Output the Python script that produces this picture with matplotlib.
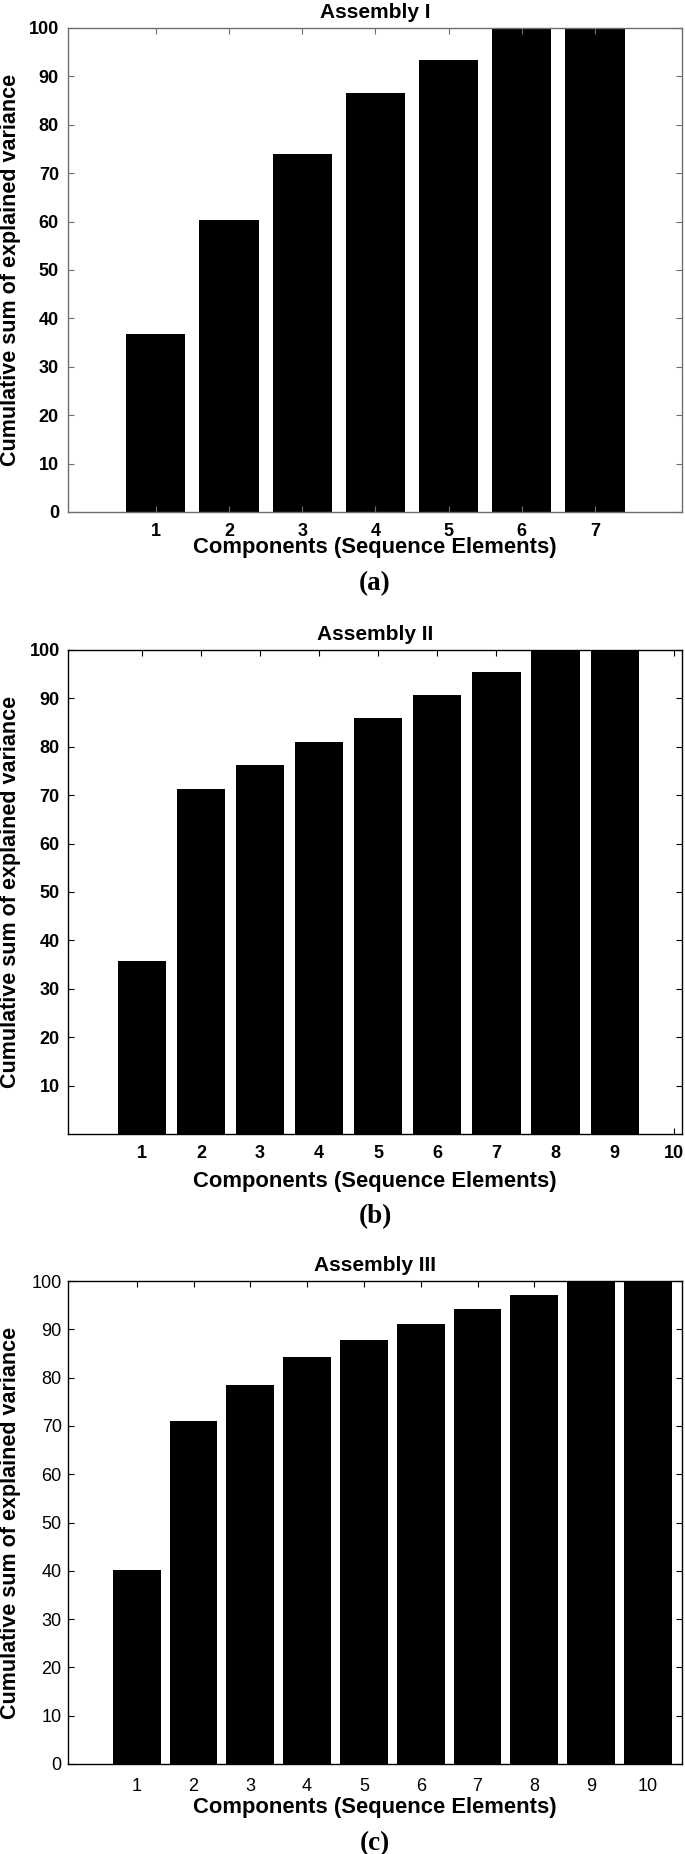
import matplotlib
matplotlib.use("Agg")
import matplotlib.pyplot as plt

# Assembly I
comps_a = [1, 2, 3, 4, 5, 6, 7]
cum_a = [36.7, 60.3, 74.0, 86.5, 93.3, 100.0, 100.0]
# Assembly II
comps_b = [1, 2, 3, 4, 5, 6, 7, 8, 9]
cum_b = [35.8, 71.3, 76.3, 81.0, 86.0, 90.8, 95.4, 100.0, 100.0]
# Assembly III
comps_c = [1, 2, 3, 4, 5, 6, 7, 8, 9, 10]
cum_c = [40.2, 71.0, 78.4, 84.2, 87.8, 91.0, 94.3, 97.2, 100.0, 100.0]

W, H = 685, 1854
SANS = ["Liberation Sans", "DejaVu Sans"]
SERIF = ["Liberation Serif", "DejaVu Serif"]

fig = plt.figure(figsize=(W / 100, H / 100), dpi=100)


def make_axes(top, bottom, left=68, right=682):
    return fig.add_axes([left / W, 1 - bottom / H, (right - left) / W, (bottom - top) / H])


def draw_panel(ax, comps, vals, title, letter, xlim, xticks, yticks, width,
               spine_color, tick_weight, tick_pad, ytick_pad, xlab_y, letter_y):
    ax.bar(comps, vals, width=width, color="black", edgecolor="none")
    ax.set_xlim(*xlim)
    ax.set_ylim(0, 100)
    ax.set_xticks(xticks)
    ax.set_yticks(yticks)
    ax.tick_params(direction="in", top=True, right=True, length=4, width=0.8,
                   color=spine_color, labelsize=13)
    ax.tick_params(axis="x", pad=tick_pad)
    ax.tick_params(axis="y", pad=ytick_pad)
    for lab in ax.get_xticklabels() + ax.get_yticklabels():
        lab.set_fontfamily(SANS)
        lab.set_fontweight(tick_weight)
    for sp in ax.spines.values():
        sp.set_color(spine_color)
        sp.set_linewidth(1.0)
    ax.set_title(title, fontsize=15, fontweight="bold", family=SANS, pad=7)
    ax.set_xlabel("Components (Sequence Elements)", fontsize=15.8,
                  fontweight="bold", family=SANS, va="center")
    ax.xaxis.set_label_coords(0.5, xlab_y)
    ax.set_ylabel("Cumulative sum of explained variance", fontsize=15.5,
                  fontweight="bold", family=SANS, va="center")
    ax.yaxis.set_label_coords(-0.094, 0.5)
    ax.text(0.5, letter_y, letter, transform=ax.transAxes, ha="center",
            va="center", fontsize=19.5, fontweight="bold", family=SERIF)


ax_a = make_axes(28, 512)
draw_panel(ax_a, comps_a, cum_a, "Assembly I", "(a)", (-0.2, 8.19),
           list(range(1, 8)), list(range(0, 101, 10)), 0.81,
           "#6e6e6e", "bold", 8, 6.5, -0.074, -0.147)

ax_b = make_axes(650, 1134)
draw_panel(ax_b, comps_b, cum_b, "Assembly II", "(b)", (-0.25, 10.14),
           list(range(1, 11)), list(range(10, 101, 10)), 0.815,
           "black", "bold", 8, 6, -0.099, -0.171)

ax_c = make_axes(1281, 1764)
draw_panel(ax_c, comps_c, cum_c, "Assembly III", "(c)", (-0.21, 10.6),
           list(range(1, 11)), list(range(0, 101, 10)), 0.84,
           "black", "normal", 10, 4.5, -0.091, -0.164)

fig.savefig("out.png", dpi=100)
